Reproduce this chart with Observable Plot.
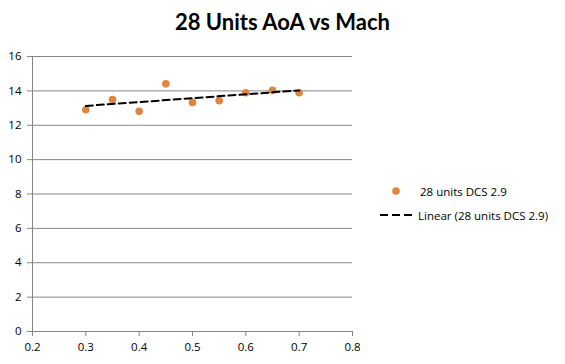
<!DOCTYPE html>
<html>
<head>
<meta charset="utf-8">
<script src="https://cdn.jsdelivr.net/npm/d3@7"></script>
<script src="https://cdn.jsdelivr.net/npm/@observablehq/plot@0.6"></script>
<style>
  body { margin: 0; background: #fff; }
  #chart { position: relative; width: 565px; height: 364px; background: #fff; font-family: "Open Sans", sans-serif; }
  #title { position: absolute; left: 0; top: 8px; width: 565px; text-align: center; font-family: Lato, "Open Sans", sans-serif; font-weight: bold; font-size: 22px; color: #000; }
  #plot { position: absolute; left: 0; top: 0; }
  #legend { position: absolute; left: 378px; top: 179px; font-size: 11.5px; color: #000; }
  .row { display: flex; align-items: center; height: 24px; }
  .sw { width: 40px; height: 20px; }
</style>
</head>
<body>
<div id="chart">
  <div id="plot"></div>
  <div id="title"></div>
  <div id="legend"></div>
</div>
<script>
const titleText = "28 Units AoA vs Mach";
const seriesName = "28 units DCS 2.9";
const trendName = "Linear (28 units DCS 2.9)";
const mach = [0.30, 0.35, 0.40, 0.45, 0.50, 0.55, 0.60, 0.65, 0.70];
const aoa  = [12.90, 13.49, 12.81, 14.41, 13.33, 13.43, 13.89, 14.03, 13.89];
const xTicks = [0.2, 0.3, 0.4, 0.5, 0.6, 0.7, 0.8];
const yTicks = [0, 2, 4, 6, 8, 10, 12, 14, 16];

const data = mach.map((m, i) => ({mach: m, aoa: aoa[i]}));
const orange = "#DD8640";
const gray = "#868686";

document.getElementById("title").textContent = titleText;

const chart = Plot.plot({
  width: 360,
  height: 364,
  marginLeft: 32,
  marginRight: 8,
  marginTop: 56,
  marginBottom: 33,
  style: {fontFamily: "'Open Sans', sans-serif", fontSize: "11.5px", color: "#000", background: "transparent"},
  x: {domain: [0.2, 0.8], ticks: xTicks, tickFormat: d3.format(".1f")},
  y: {domain: [0, 16], ticks: yTicks},
  marks: [
    Plot.ruleY(yTicks.filter(d => d > 0), {stroke: gray, strokeWidth: 1, strokeOpacity: 1}),
    Plot.ruleX([0.2], {stroke: gray, strokeWidth: 1, strokeOpacity: 1}),
    Plot.ruleY([0], {stroke: gray, strokeWidth: 1, strokeOpacity: 1}),
    Plot.axisY({ticks: yTicks, tickSize: 5, tickPadding: 6, stroke: gray, strokeOpacity: 1, label: null, fill: "#000"}),
    Plot.axisX({ticks: xTicks, tickSize: 5, tickPadding: 6, stroke: gray, strokeOpacity: 1, label: null, fill: "#000", tickFormat: d3.format(".1f")}),
    Plot.dot(data, {x: "mach", y: "aoa", r: 3.8, fill: orange, stroke: "none"}),
    Plot.linearRegressionY(data, {x: "mach", y: "aoa", stroke: "#000", strokeWidth: 2, strokeDasharray: "7,4", ci: 0})
  ]
});
document.getElementById("plot").appendChild(chart);

const legend = document.getElementById("legend");
legend.innerHTML = `
  <div class="row">
    <svg class="sw" width="40" height="20"><circle cx="18" cy="10" r="3.8" fill="${orange}"></circle></svg>
    <span style="margin-left:2px">${seriesName}</span>
  </div>
  <div class="row">
    <svg class="sw" width="40" height="20"><line x1="2" x2="38" y1="10" y2="10" stroke="#000" stroke-width="2" stroke-dasharray="8,4"></line></svg>
    <span>${trendName}</span>
  </div>`;
</script>
</body>
</html>
